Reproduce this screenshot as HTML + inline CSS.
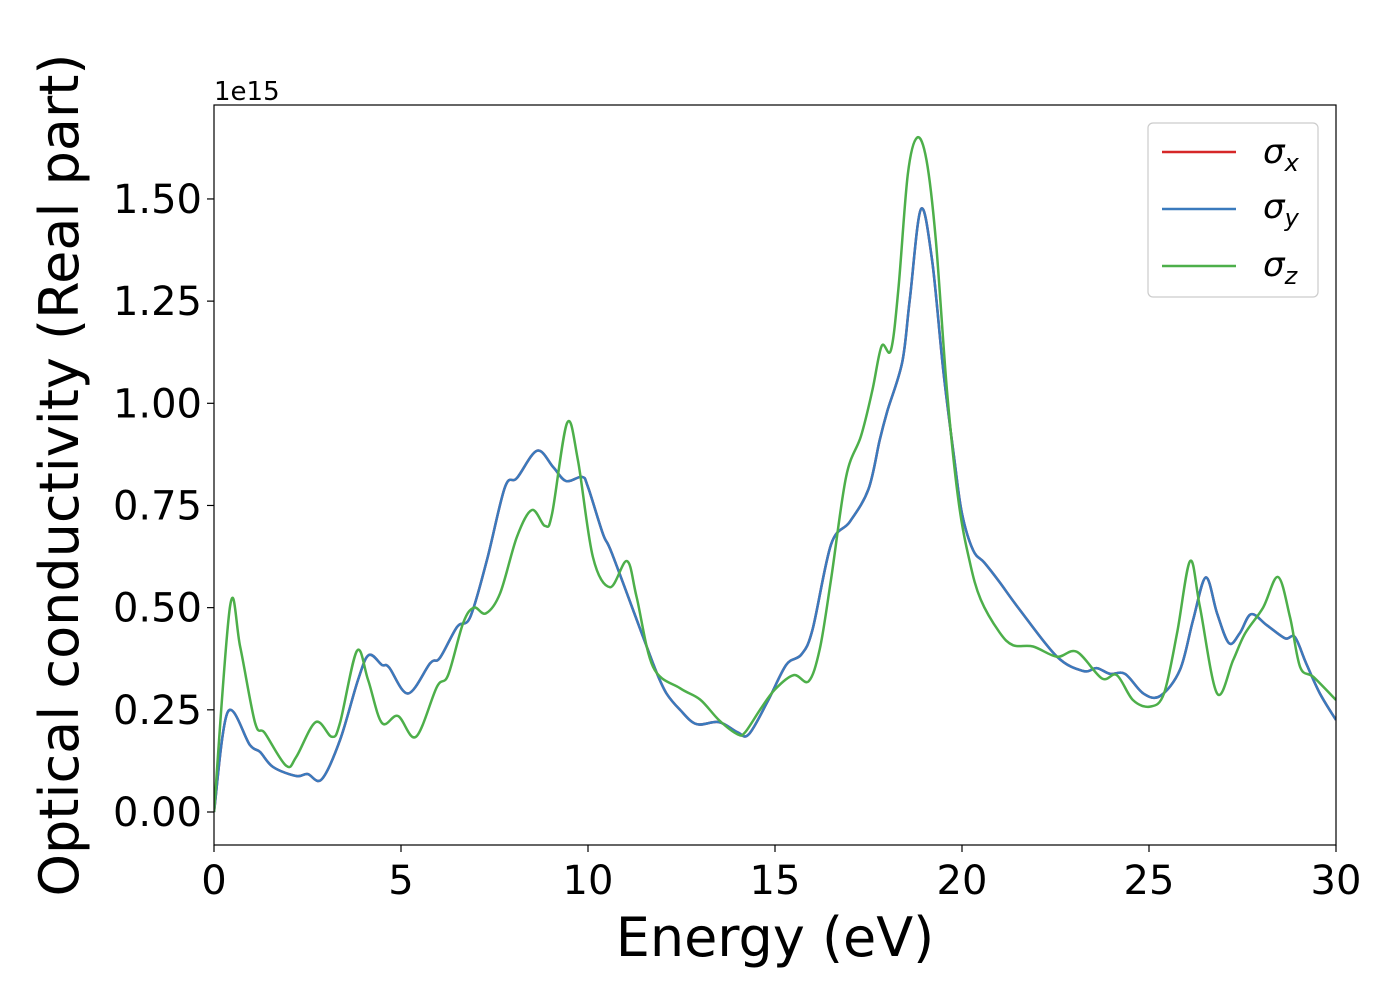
<!DOCTYPE html>
<html><head><meta charset="utf-8"><style>
html,body{margin:0;padding:0;background:#fff;}
svg text{font-family:"DejaVu Sans","Liberation Sans",sans-serif;}
</style></head><body>
<svg id="chart" width="1400" height="1000" xmlns="http://www.w3.org/2000/svg">
<rect x="0" y="0" width="1400" height="1000" fill="#fff"/>
<g id="series"></g>
<rect x="214" y="105" width="1122" height="740" fill="none" stroke="#000" stroke-width="1.2"/>
<g id="xticks"></g>
<g id="yticks"></g>
<text x="214" y="100" font-size="26">1e15</text>
<text x="775" y="956" font-size="54" text-anchor="middle">Energy (eV)</text>
<text transform="translate(78,475) rotate(-90)" font-size="54" text-anchor="middle">Optical conductivity (Real part)</text>
<g>
<rect x="1148" y="123" width="170" height="174" rx="5" fill="#fff" stroke="#ccc" stroke-width="1.2"/>
<line x1="1162" y1="152" x2="1236" y2="152" stroke="#d62728" stroke-width="2.5"/>
<text x="1263" y="163" font-size="34" font-style="italic">σ<tspan font-size="24" dy="8">x</tspan></text>
<line x1="1162" y1="209" x2="1236" y2="209" stroke="#3a7abd" stroke-width="2.5"/>
<text x="1263" y="218" font-size="34" font-style="italic">σ<tspan font-size="24" dy="8">y</tspan></text>
<line x1="1162" y1="266" x2="1236" y2="266" stroke="#4daf4a" stroke-width="2.5"/>
<text x="1263" y="276" font-size="34" font-style="italic">σ<tspan font-size="24" dy="8">z</tspan></text>
</g>
</svg>
<script>
const xTicks=[0,5,10,15,20,25,30];
const yTicks=[0,0.25,0.5,0.75,1.0,1.25,1.5];
const yTickLabels=["0.00","0.25","0.50","0.75","1.00","1.25","1.50"];
const energyXY=[0,0.37,0.96,1.23,1.58,2.2,2.5,2.88,3.37,3.85,4.14,4.49,4.68,5.19,5.78,6.04,6.5,6.85,7.3,7.78,8.1,8.64,9.07,9.41,9.84,10.0,10.4,10.64,11.47,11.84,12.1,12.46,12.9,13.5,14.0,14.3,14.8,15.3,15.7,16.0,16.5,17.0,17.5,17.8,18.0,18.4,18.6,18.9,19.2,19.5,19.8,20.0,20.3,20.6,21.0,21.55,22.54,23.24,23.6,23.96,24.36,24.85,25.3,25.83,26.18,26.52,26.82,27.14,27.43,27.73,28.15,28.64,28.9,29.2,29.57,30];
const sigmaX=[0,0.245,0.164,0.147,0.11,0.088,0.093,0.08,0.176,0.323,0.384,0.36,0.354,0.29,0.364,0.377,0.453,0.477,0.617,0.795,0.817,0.884,0.844,0.81,0.82,0.795,0.68,0.633,0.429,0.34,0.29,0.25,0.215,0.22,0.195,0.19,0.27,0.36,0.385,0.445,0.655,0.71,0.79,0.91,0.98,1.1,1.25,1.475,1.35,1.08,0.86,0.73,0.64,0.61,0.563,0.494,0.38,0.345,0.352,0.338,0.338,0.29,0.284,0.348,0.47,0.574,0.486,0.413,0.438,0.484,0.457,0.425,0.428,0.364,0.29,0.225];
const sigmaY=sigmaX.slice();
const energyZ=[0,0.43,0.7,1.1,1.36,1.93,2.2,2.72,3.15,3.37,3.82,4.12,4.49,4.92,5.4,5.96,6.26,6.66,6.95,7.27,7.65,8.1,8.5,8.85,9.04,9.44,9.73,10.13,10.59,11.04,11.3,11.74,12.46,13.0,13.5,14.0,14.2,14.6,15.0,15.5,15.9,16.2,16.5,16.9,17.3,17.6,17.85,18.1,18.3,18.55,18.8,19.05,19.3,19.6,19.9,20.2,20.5,21.0,21.37,21.9,22.54,23.07,23.74,24.14,24.57,25.03,25.4,25.75,26.1,26.36,26.82,27.25,27.57,28.05,28.45,28.77,29.04,29.4,30];
const sigmaZ=[0,0.504,0.404,0.218,0.193,0.113,0.135,0.22,0.184,0.218,0.394,0.323,0.218,0.235,0.184,0.306,0.335,0.462,0.5,0.486,0.535,0.673,0.739,0.7,0.73,0.952,0.861,0.624,0.55,0.614,0.526,0.355,0.303,0.275,0.225,0.19,0.195,0.25,0.3,0.335,0.32,0.4,0.57,0.82,0.92,1.03,1.14,1.13,1.28,1.56,1.65,1.595,1.4,1.03,0.765,0.615,0.52,0.44,0.408,0.405,0.38,0.392,0.327,0.335,0.274,0.258,0.29,0.437,0.614,0.502,0.29,0.372,0.437,0.5,0.575,0.477,0.355,0.33,0.274];

const X0=214,X1=1336,Y0=812,PERU=408.7;
function sx(e){return X0+(e-0)*(X1-X0)/30;}
function sy(v){return Y0-v*PERU;}
const NS="http://www.w3.org/2000/svg";
function mk(tag,attrs,parent){const el=document.createElementNS(NS,tag);for(const k in attrs)el.setAttribute(k,attrs[k]);parent.appendChild(el);return el;}
function pathD(xs,vs){
  const p=xs.map((e,i)=>[sx(e),sy(vs[i])]);
  let d="M"+p[0][0].toFixed(1)+","+p[0][1].toFixed(1);
  for(let i=0;i<p.length-1;i++){
    const a=p[Math.max(0,i-1)],b=p[i],c=p[i+1],n=p[Math.min(p.length-1,i+2)];
    const c1=[b[0]+(c[0]-a[0])/6,b[1]+(c[1]-a[1])/6];
    const c2=[c[0]-(n[0]-b[0])/6,c[1]-(n[1]-b[1])/6];
    d+=" C"+c1[0].toFixed(1)+","+c1[1].toFixed(1)+" "+c2[0].toFixed(1)+","+c2[1].toFixed(1)+" "+c[0].toFixed(1)+","+c[1].toFixed(1);
  }
  return d;
}
const sg=document.getElementById("series");
const clip=mk("clipPath",{id:"pc"},sg);mk("rect",{x:214,y:105,width:1122,height:740},clip);
const lx=mk("path",{d:pathD(energyXY,sigmaX),fill:"none",stroke:"#d62728","stroke-width":2.5,"clip-path":"url(#pc)"},sg);


const ly=mk("path",{d:pathD(energyXY,sigmaY),fill:"none",stroke:"#3a7abd","stroke-width":2.5,"clip-path":"url(#pc)"},sg);


const lz=mk("path",{d:pathD(energyZ,sigmaZ),fill:"none",stroke:"#4daf4a","stroke-width":2.5,"clip-path":"url(#pc)"},sg);



const xg=document.getElementById("xticks");
xTicks.forEach(t=>{
  const ln=mk("line",{x1:sx(t),x2:sx(t),y1:845,y2:852,stroke:"#000","stroke-width":1.2},xg);
  
  
  const tx=mk("text",{x:sx(t),y:894,"font-size":40,"text-anchor":"middle"},xg);
  
  
  tx.textContent=String(t);
});
const yg=document.getElementById("yticks");
yTicks.forEach((t,i)=>{
  const ln=mk("line",{x1:207,x2:214,y1:sy(t),y2:sy(t),stroke:"#000","stroke-width":1.2},yg);
  
  
  const tx=mk("text",{x:202,y:sy(t)+14,"font-size":40,"text-anchor":"end"},yg);
  
  
  tx.textContent=yTickLabels[i];
});
</script>
</body></html>
